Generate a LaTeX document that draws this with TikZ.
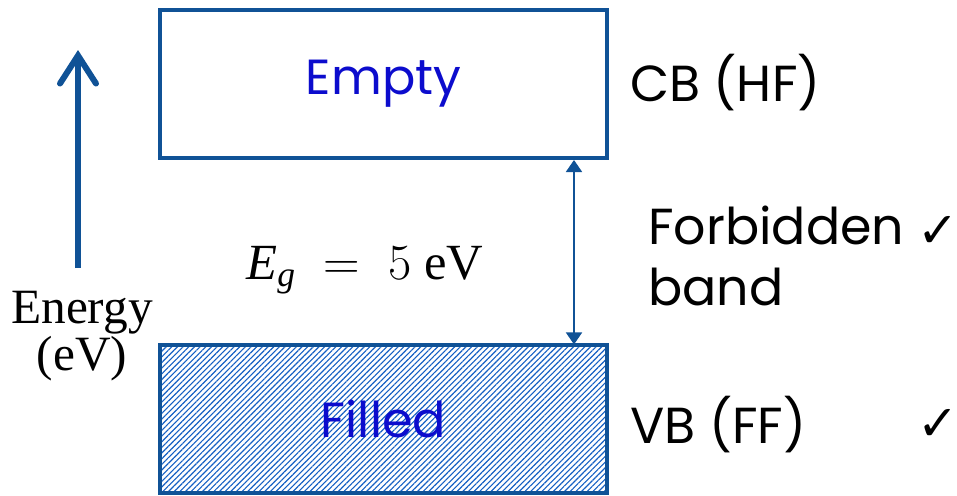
\documentclass[tikz,border=0pt]{standalone}
\usepackage{fix-cm}
\usepackage{fontspec}
\setmainfont{Liberation Serif}
\newfontfamily\bandfont{Poppins}
\newfontfamily\tickfont{DejaVu Sans}
\usetikzlibrary{arrows.meta}
\usetikzlibrary{patterns.meta}

\definecolor{bandblue}{RGB}{16,82,150}
\definecolor{labelblue}{RGB}{12,12,205}
\definecolor{hatchblue}{RGB}{20,95,195}

\begin{document}
\begin{tikzpicture}[x=0.75pt, y=-0.75pt,
        band_style/.style={rectangle, draw=bandblue, line width=3pt, minimum width=335.25pt, minimum height=111pt, inner sep=0pt, text=labelblue, font=\bandfont\fontsize{37}{44}\selectfont},
        filled_band_style/.style={band_style, pattern={Lines[angle=45, distance=3pt, line width=0.85pt]}, pattern color=hatchblue},
        side_style/.style={anchor=west, align=left, inner sep=0pt, font=\bandfont\fontsize{38}{46}\selectfont},
        tick_style/.style={inner sep=0pt, font=\tickfont\bfseries\fontsize{37}{37}\selectfont},
        energy_style/.style={draw=bandblue, line width=4.5pt, -{Straight Barb[length=21pt, width=27pt, line cap=round]}},
        gap_style/.style={draw=bandblue, line width=1.4pt, {Triangle[length=9pt, width=12pt]}-{Triangle[length=9pt, width=12pt]}}]

        \useasboundingbox (0,0) rectangle (957,496);

        % the two bands
        \node [band_style](cb) at (383.5,84) {Empty};

        \node [filled_band_style](vb) at (383.5,419) {Filled};

        % band names on the right
        \node [side_style](cb_name) at (630,83) {CB (HF)};

        \node [side_style](vb_name) at (630,425) {VB (FF)};

        \node [side_style](gap_name) at (648,256) {Forbidden\\band};

        \node [tick_style](tick1) at (938,232) {✓};

        \node [tick_style](tick2) at (938,425) {✓};

        % energy axis
        \coordinate (e_tail) at (78,268);
        \coordinate (e_tip) at (78,50);
        \draw [energy_style] (e_tail) -- (e_tip);

        \node [align=center, inner sep=0pt, font=\fontsize{37}{35}\selectfont](e_label) at (82,336) {Energy\\(eV)};

        % gap width
        \coordinate (gap_x) at (574,0);
        \draw [gap_style] (cb.south -| gap_x) -- (vb.north -| gap_x);

        \node [inner sep=0pt, font=\fontsize{38}{44}\selectfont](eg) at (365,270) {$\mathit{E}_{\mathit{g}} \;=\; 5~\mathrm{eV}$};

        \end{tikzpicture}
\end{document}
